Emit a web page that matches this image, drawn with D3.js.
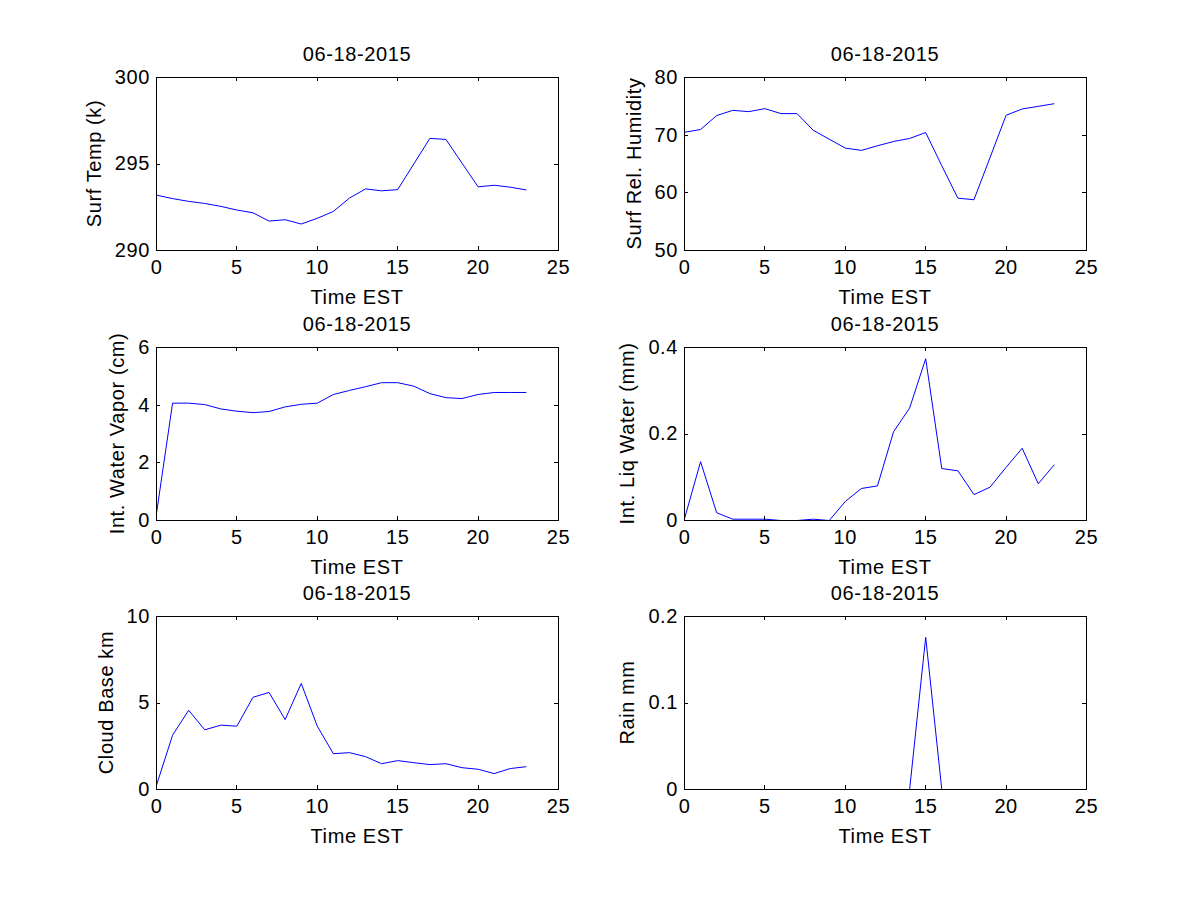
<!DOCTYPE html>
<html>
<head>
<meta charset="utf-8">
<script src="https://cdn.jsdelivr.net/npm/d3@7"></script>
<style>
  html, body { margin: 0; padding: 0; background: #fff; }
  svg { display: block; }
  text { font-family: "Liberation Sans", Arial, Helvetica, sans-serif; font-size: 20px; letter-spacing: 0.6px; fill: #000; }
  .axis path, .axis line { stroke: #000; shape-rendering: crispEdges; }
</style>
</head>
<body>
<svg id="chart" width="1200" height="900"></svg>
<script>
const dateLabel = "06-18-2015"
const xLabel = "Time EST"
const hours = [0, 1, 2, 3, 4, 5, 6, 7, 8, 9, 10, 11, 12, 13, 14, 15, 16, 17, 18, 19, 20, 21, 22, 23]
const xTicks = [0, 5, 10, 15, 20, 25]

const surfTemp = [293.2, 293.0, 292.84, 292.72, 292.55, 292.34, 292.18, 291.7, 291.78, 291.53,
    291.86, 292.26, 293.03, 293.56, 293.45, 293.52, 295.0, 296.48, 296.42, 295.05,
    293.68, 293.77, 293.66, 293.5]
const surfRH = [70.5, 70.98, 73.4, 74.3, 74.08, 74.6, 73.74, 73.74, 70.86, 69.3,
    67.76, 67.36, 68.16, 68.9, 69.43, 70.46, 64.7, 59.08, 58.8, 66.1,
    73.45, 74.54, 75.0, 75.46]
const waterVapor = [0.25, 4.07, 4.07, 4.02, 3.87, 3.79, 3.74, 3.78, 3.94, 4.03,
    4.07, 4.37, 4.51, 4.64, 4.78, 4.78, 4.66, 4.4, 4.26, 4.23,
    4.37, 4.44, 4.44, 4.44]
const liqWater = [0.004, 0.136, 0.018, 0.003, 0.003, 0.003, 0, 0, 0.003, 0,
    0.044, 0.074, 0.08, 0.205, 0.26, 0.374, 0.12, 0.115, 0.06, 0.077,
    0.123, 0.167, 0.085, 0.129]
const cloudBase = [0.25, 3.14, 4.58, 3.45, 3.72, 3.66, 5.33, 5.61, 4.04, 6.13,
    3.66, 2.07, 2.13, 1.9, 1.49, 1.67, 1.55, 1.44, 1.49, 1.26,
    1.17, 0.92, 1.21, 1.32]
const rain = [0, 0, 0, 0, 0, 0, 0, 0, 0, 0,
    0, 0, 0, 0, 0, 0.176, 0, 0, 0, 0,
    0, 0, 0, 0]

const panels = [
    { values: surfTemp, yLabel: "Surf Temp (k)", yDomain: [290, 300], yTicks: [290, 295, 300], col: 0, row: 0 },
    { values: surfRH, yLabel: "Surf Rel. Humidity", yDomain: [50, 80], yTicks: [50, 60, 70, 80], col: 1, row: 0 },
    { values: waterVapor, yLabel: "Int. Water Vapor (cm)", yDomain: [0, 6], yTicks: [0, 2, 4, 6], col: 0, row: 1 },
    { values: liqWater, yLabel: "Int. Liq Water (mm)", yDomain: [0, 0.4], yTicks: [0, 0.2, 0.4], col: 1, row: 1 },
    { values: cloudBase, yLabel: "Cloud Base km", yDomain: [0, 10], yTicks: [0, 5, 10], col: 0, row: 2 },
    { values: rain, yLabel: "Rain mm", yDomain: [0, 0.2], yTicks: [0, 0.1, 0.2], col: 1, row: 2 }
]

// subplot grid (pixels), axis lines land on +0.5
const colLeft = [156, 684]
const plotW = 402
const rowTop = [77, 347, 616]
const plotH = 173
const tick = 4

const svg = d3.select("#chart")

panels.forEach(p => {
    const left = colLeft[p.col]
    const top = rowTop[p.row]
    const g = svg.append("g").attr("transform", `translate(${left},${top})`)

    const x = d3.scaleLinear().domain([0, 25]).range([0, plotW])
    const y = d3.scaleLinear().domain(p.yDomain).range([plotH, 0])

    // same half-pixel offset as the d3 axes, so zero values sit under the box line
    const line = d3.line()
        .x((d, i) => x(hours[i]) + 0.5)
        .y(d => y(d) + 0.5)

    g.append("path")
        .datum(p.values)
        .attr("fill", "none")
        .attr("stroke", "#0000ff")
        .attr("stroke-width", 1)
        .attr("d", line)

    // box with inward ticks on all sides
    g.append("g")
        .attr("class", "axis")
        .attr("transform", `translate(0,${plotH})`)
        .call(d3.axisBottom(x).tickValues(xTicks).tickSizeInner(-tick).tickSizeOuter(0).tickPadding(10))
    g.append("g")
        .attr("class", "axis")
        .call(d3.axisTop(x).tickValues(xTicks).tickSizeInner(-tick).tickSizeOuter(0).tickFormat(""))
    const gY = g.append("g")
        .attr("class", "axis")
        .call(d3.axisLeft(y).tickValues(p.yTicks).tickSizeInner(-tick).tickSizeOuter(0).tickPadding(6)
            .tickFormat(d3.format("")))
    g.append("g")
        .attr("class", "axis")
        .attr("transform", `translate(${plotW},0)`)
        .call(d3.axisRight(y).tickValues(p.yTicks).tickSizeInner(-tick).tickSizeOuter(0).tickFormat(""))

    g.selectAll(".axis text")
        .attr("fill", "#000")
        .style("font-size", "20px")
    g.selectAll(".axis").attr("font-family", null).attr("font-size", null)

    g.append("text")
        .attr("x", plotW / 2)
        .attr("y", -16)
        .attr("text-anchor", "middle")
        .text(dateLabel)

    g.append("text")
        .attr("x", plotW / 2)
        .attr("y", plotH + 53.5)
        .attr("text-anchor", "middle")
        .text(xLabel)

    const bb = gY.node().getBBox()
    g.append("text")
        .attr("transform", `translate(${bb.x - 14},${plotH / 2}) rotate(-90)`)
        .attr("text-anchor", "middle")
        .text(p.yLabel)
})
</script>
</body>
</html>
